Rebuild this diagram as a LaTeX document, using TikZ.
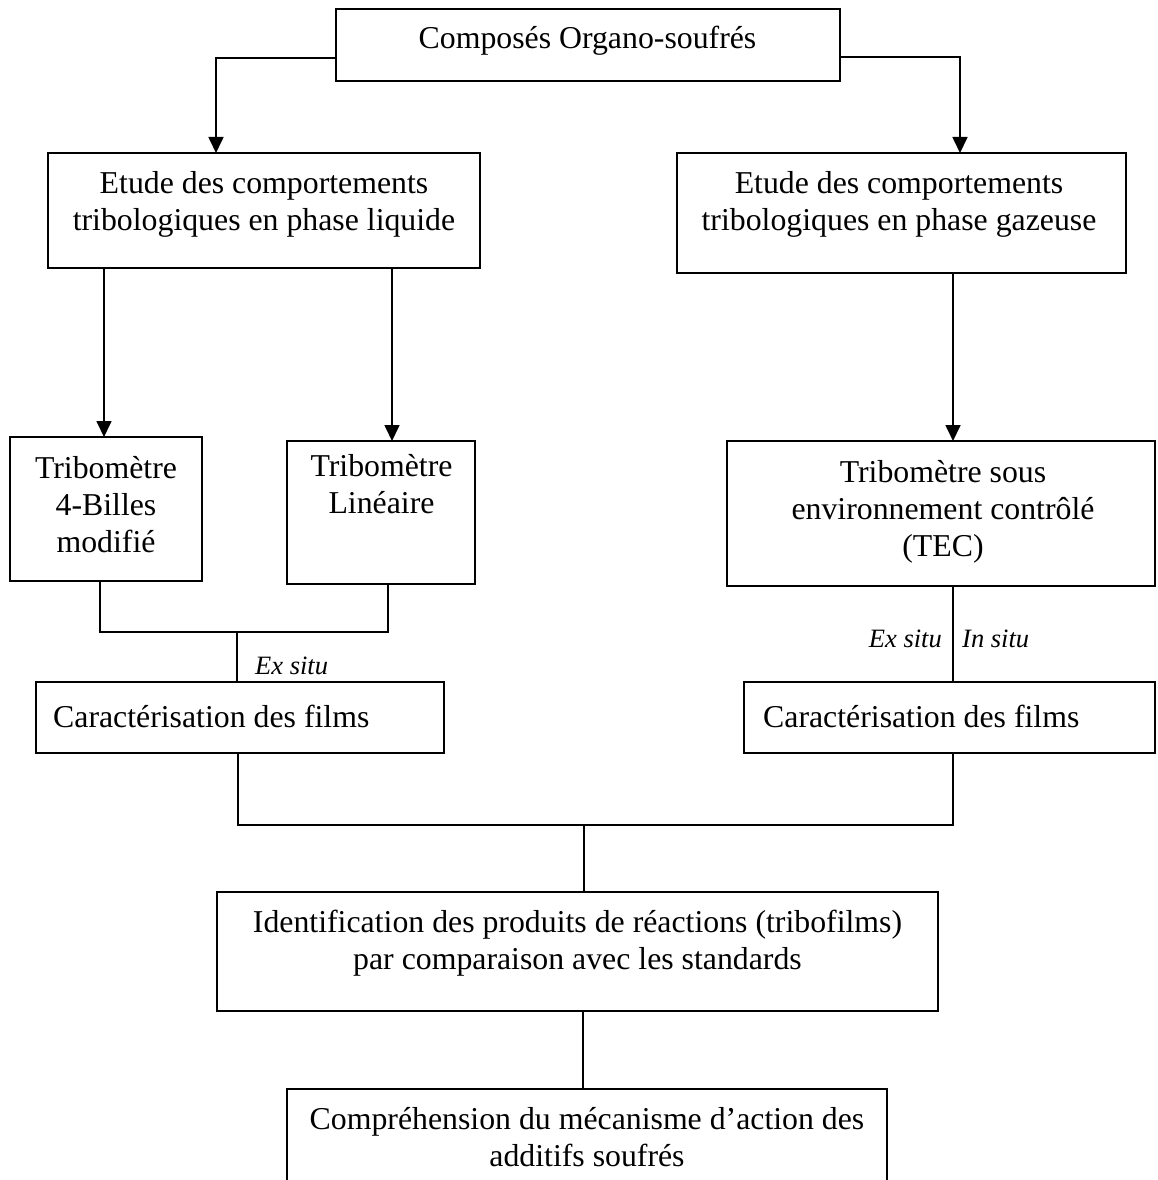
\documentclass[tikz,border=0pt]{standalone}
\usepackage{fontspec}
\setmainfont{Liberation Serif}
\usetikzlibrary{arrows.meta}
% centred block of lines whose baseline is that of its first line
\newcommand\mlines[1]{\begin{tabular}[t]{@{}c@{}}#1\end{tabular}}
\begin{document}
\begin{tikzpicture}[x=1pt,y=-1pt,
  box/.style={draw, line width=2pt, inner sep=0pt, outer sep=0pt},
  txt/.style={inner sep=0pt, font=\fontsize{31.8}{37}\selectfont},
  lab/.style={inner sep=0pt, font=\fontsize{26.5}{31}\selectfont\itshape},
  link/.style={line width=1.7pt},
  arr/.style={link, -{Triangle[length=16pt,width=15pt]}}]

\fill[white] (0,0) rectangle (1157,1180);
\useasboundingbox (0,0) rectangle (1157,1180);

% frames
\node[box, minimum width=504pt, minimum height=72pt]  (org)   at (588,45) {};
\node[box, minimum width=432pt, minimum height=115pt] (liq)   at (264,210.5) {};
\node[box, minimum width=449pt, minimum height=120pt] (gaz)   at (901.5,213) {};
\node[box, minimum width=192pt, minimum height=144pt] (bil)   at (106,509) {};
\node[box, minimum width=188pt, minimum height=143pt] (lin)   at (381,512.5) {};
\node[box, minimum width=428pt, minimum height=145pt] (tec)   at (941,513.5) {};
\node[box, minimum width=408pt, minimum height=71pt]  (carL)  at (240,717.5) {};
\node[box, minimum width=411pt, minimum height=71pt]  (carR)  at (949.5,717.5) {};
\node[box, minimum width=721pt, minimum height=119pt] (ident) at (577.5,951.5) {};
\node[box, minimum width=600pt, minimum height=131pt] (comp)  at (587,1154.5) {};

% texts
\node[txt, anchor=base] (org-t) at (587.5,49) {Composés Organo-soufrés};
\node[txt, anchor=base] (liq-t) at (264,193) {\mlines{Etude des comportements\\tribologiques en phase liquide}};
\node[txt, anchor=base] (gaz-t) at (899,193) {\mlines{Etude des comportements\\tribologiques en phase gazeuse}};
\node[txt, anchor=base] (bil-t) at (106,478) {\mlines{Tribomètre\\4-Billes\\modifié}};
\node[txt, anchor=base] (lin-t) at (381.5,476) {\mlines{Tribomètre\\Linéaire}};
\node[txt, anchor=base] (tec-t) at (943,482) {\mlines{Tribomètre sous\\environnement contrôlé\\(TEC)}};
\node[txt, anchor=base west] (carL-t) at (53,727) {Caractérisation des films};
\node[txt, anchor=base west] (carR-t) at (763,727) {Caractérisation des films};
\node[txt, anchor=base] (ident-t) at (577.5,932) {\mlines{Identification des produits de réactions (tribofilms)\\par comparaison avec les standards}};
\node[txt, anchor=base] (comp-t) at (587,1129) {\mlines{Compréhension du mécanisme d’action des\\additifs soufrés}};

% branch labels
\node[lab, anchor=base west] (exL) at (255,674) {Ex situ};
\node[lab, anchor=base east] (exR) at (942,647) {Ex situ};
\node[lab, anchor=base west] (inR) at (962,647) {In situ};

% junction points
\coordinate (jL) at (237,632);
\coordinate (jM) at (584,825);

% connectors
\draw[arr] ([yshift=-13pt]org.west) -| ([xshift=-48pt]liq.north);
\draw[arr] ([yshift=-12pt]org.east) -| ([xshift=58.5pt]gaz.north);
\draw[arr] ([xshift=-2pt]bil.north |- liq.south) -- ([xshift=-2pt]bil.north);
\draw[arr] ([xshift=11pt]lin.north |- liq.south) -- ([xshift=11pt]lin.north);
\draw[arr] ([xshift=12pt]tec.north |- gaz.south) -- ([xshift=12pt]tec.north);

\draw[link] ([xshift=-6pt]bil.south) |- (jL) -| ([xshift=7pt]lin.south);
\draw[link] (jL) -- (jL |- carL.north);
\draw[link] ([xshift=12pt]tec.south) -- ([xshift=12pt]tec.south |- carR.north);

\draw[link] ([xshift=-2pt]carL.south) |- (jM) -| ([xshift=3.5pt]carR.south);
\draw[link] (jM) -- (jM |- ident.north);
\draw[link] ([xshift=5.5pt]ident.south) -- ([xshift=5.5pt]ident.south |- comp.north);
\end{tikzpicture}
\end{document}
